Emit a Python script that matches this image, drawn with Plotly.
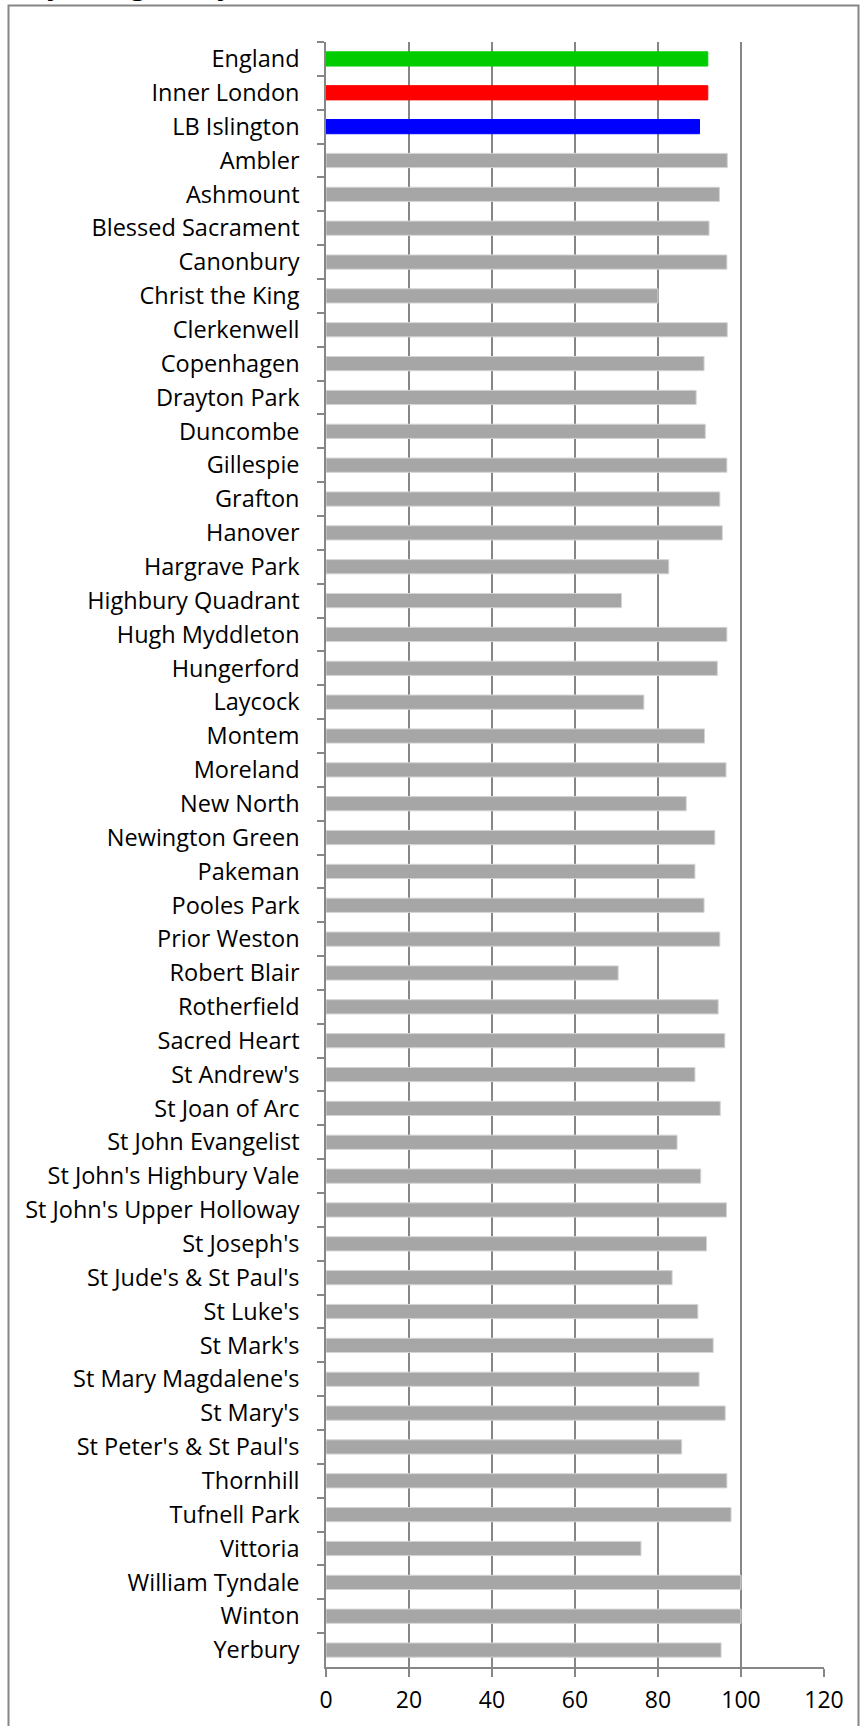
import plotly.graph_objects as go

schools = ["England", "Inner London", "LB Islington", "Ambler", "Ashmount", "Blessed Sacrament",
           "Canonbury", "Christ the King", "Clerkenwell", "Copenhagen", "Drayton Park", "Duncombe",
           "Gillespie", "Grafton", "Hanover", "Hargrave Park", "Highbury Quadrant", "Hugh Myddleton",
           "Hungerford", "Laycock", "Montem", "Moreland", "New North", "Newington Green", "Pakeman",
           "Pooles Park", "Prior Weston", "Robert Blair", "Rotherfield", "Sacred Heart", "St Andrew's",
           "St Joan of Arc", "St John Evangelist", "St John's Highbury Vale", "St John's Upper Holloway",
           "St Joseph's", "St Jude's & St Paul's", "St Luke's", "St Mark's", "St Mary Magdalene's",
           "St Mary's", "St Peter's & St Paul's", "Thornhill", "Tufnell Park", "Vittoria",
           "William Tyndale", "Winton", "Yerbury"]

values = [92.0, 92.0, 90.0, 96.7, 94.8, 92.3,
          96.6, 80.0, 96.7, 91.1, 89.2, 91.4,
          96.6, 94.9, 95.5, 82.6, 71.2, 96.6,
          94.3, 76.6, 91.2, 96.4, 86.8, 93.7, 88.9,
          91.1, 94.9, 70.4, 94.5, 96.1, 88.9,
          95.0, 84.6, 90.3, 96.5,
          91.7, 83.4, 89.6, 93.3, 89.9,
          96.2, 85.7, 96.6, 97.6, 75.9,
          100.0, 100.0, 95.2]

highlight_colors = {"England": "#00cc00", "Inner London": "#ff0000", "LB Islington": "#0000ff"}
colors = [highlight_colors.get(s, "#a6a6a6") for s in schools]
line_colors = [highlight_colors.get(s, "#d4d4d4") for s in schools]

x_ticks = [0, 20, 40, 60, 80, 100, 120]

fig = go.Figure(go.Bar(
    y=schools, x=values, orientation="h",
    marker=dict(color=colors, line=dict(color=line_colors, width=1)),
    width=0.42,
))

W, H = 860, 1726
L, R, T, B = 326, 824, 42.3, 1666.7
fig.update_layout(
    width=W, height=H,
    margin=dict(l=L, r=W - R, t=T, b=H - B, pad=0),
    paper_bgcolor="white", plot_bgcolor="white",
    showlegend=False,
    font=dict(family="Open Sans", size=23, color="#000000"),
    xaxis=dict(range=[0, 120], tickvals=x_ticks, ticktext=[str(t) for t in x_ticks],
               showgrid=True, gridcolor="#868686", gridwidth=1.5,
               zeroline=False, showline=True, linecolor="#868686", linewidth=1.5,
               ticks="outside", ticklen=8, tickcolor="#868686", tickwidth=1.5,
               ticklabelstandoff=4, tickfont=dict(size=23), fixedrange=True),
    yaxis=dict(categoryorder="array", categoryarray=schools, autorange="reversed",
               showgrid=False, zeroline=False, showline=True, linecolor="#868686", linewidth=1.5,
               ticks="outside", tickson="boundaries", ticklen=7, tickcolor="#868686", tickwidth=1.5,
               ticklabelstandoff=20, tickfont=dict(size=23.5), fixedrange=True),
    bargap=0.58,
)

pw, ph = R - L, B - T
def px_x(p):
    return (p - L) / pw
def px_y(p):
    return (B - p) / ph

# chart frame
fig.add_shape(type="rect", xref="paper", yref="paper",
              x0=px_x(8.5), x1=px_x(858.5), y0=px_y(1760), y1=px_y(5.7),
              line=dict(color="#868686", width=2), fillcolor="rgba(0,0,0,0)", layer="below")

# title (cut off at top of page in the reference, only descenders visible)
for ch, cx in [("y", 55), ("g", 138), ("y", 225)]:
    fig.add_annotation(text=ch, xref="paper", yref="paper", x=px_x(cx), y=px_y(4),
                       xanchor="center", yanchor="bottom", showarrow=False,
                       font=dict(family="Open Sans", size=28, color="#000000", weight="bold"))

fig.write_html("out.html")
